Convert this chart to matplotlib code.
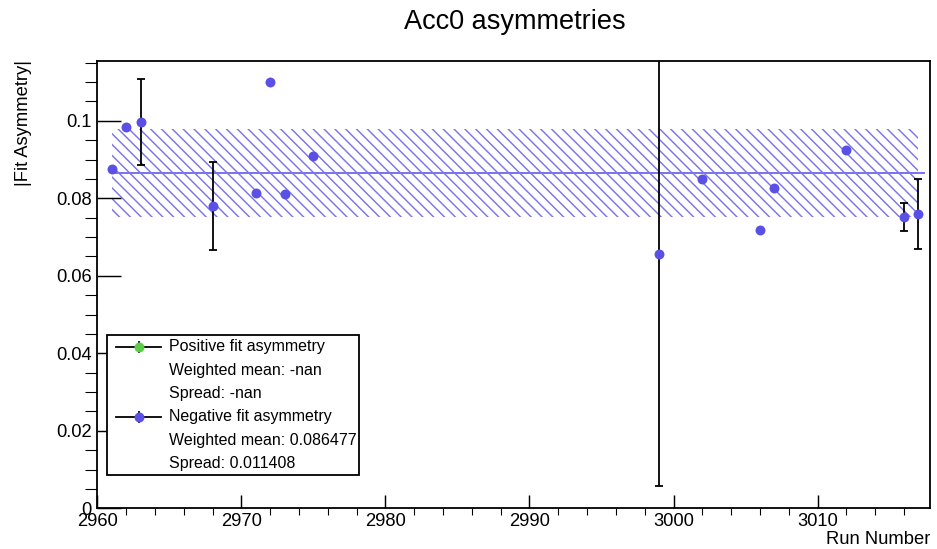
import numpy as np
import matplotlib
matplotlib.use("Agg")
import matplotlib.pyplot as plt

plt.rcParams['font.family'] = ['Liberation Sans', 'DejaVu Sans']
plt.rcParams['hatch.linewidth'] = 0.8

# run numbers and |fit asymmetry| (negative fit)
runs = [2961, 2962, 2963, 2968, 2971, 2972, 2973, 2975, 2999, 3002, 3006, 3007, 3012, 3016, 3017]
asym = [0.0876, 0.0983, 0.0997, 0.0780, 0.0814, 0.1101, 0.0811, 0.0908, 0.0655, 0.0850, 0.0717, 0.0826, 0.0925, 0.0752, 0.0759]
asym_err = [0.0, 0.0, 0.011, 0.0113, 0.0, 0.0, 0.0, 0.0, 0.0598, 0.0, 0.0, 0.0, 0.0, 0.0037, 0.009]

weighted_mean = 0.086477
spread = 0.011408
legend_rows = ["Positive fit asymmetry", "Weighted mean: -nan", "Spread: -nan",
               "Negative fit asymmetry", "Weighted mean: 0.086477", "Spread: 0.011408"]

blue = '#5a50e6'
band_blue = '#7a74ee'
green = '#5ccc44'

dpi = 130
fig = plt.figure(figsize=(937 / dpi, 549 / dpi), dpi=dpi)
ax = fig.add_axes([97.3 / 937, 1 - 508.3 / 549, (930 - 97.3) / 937, (508.3 - 60.7) / 549])

# spread band and weighted mean
ax.fill_between([runs[0], runs[-1]], weighted_mean - spread, weighted_mean + spread,
                facecolor='none', edgecolor=band_blue, hatch='\\\\\\\\', linewidth=0)
ax.plot([runs[0], runs[-1] + 0.4], [weighted_mean, weighted_mean], color=band_blue, lw=1.1)

ax.errorbar(runs, asym, yerr=asym_err, fmt='none', ecolor='black', elinewidth=1.0,
            capsize=2.2, capthick=1.0, zorder=3)
ax.plot(runs, asym, 'o', color=blue, markersize=5.5, zorder=4, markeredgewidth=0)

ax.set_xlim(2960, 3017.8)
ax.set_ylim(0, 0.1155)
ax.set_xticks(np.arange(2960, 3011, 10))
ax.set_xticks(np.arange(2960, 3018, 2), minor=True)
ax.set_yticks([0, 0.02, 0.04, 0.06, 0.08, 0.1])
ax.set_yticklabels(['0', '0.02', '0.04', '0.06', '0.08', '0.1'])
ax.set_yticks(np.arange(0, 0.1155, 0.005), minor=True)
ax.tick_params(axis='both', direction='in', labelsize=10.2, color='black')
ax.tick_params(axis='x', which='major', length=7.2, pad=2.5)
ax.tick_params(axis='x', which='minor', length=3.9)
ax.tick_params(axis='y', which='major', length=13.3, pad=3)
ax.tick_params(axis='y', which='minor', length=6.6)
for s in ax.spines.values():
    s.set_linewidth(1.0)

fig.text(930 / 937, 1 - 540 / 549, "Run Number", ha='right', va='center', fontsize=10.2)
fig.text(24 / 937, 1 - 60 / 549, "|Fit Asymmetry|", rotation=90, ha='center', va='top', fontsize=10.2)
fig.text(515 / 937, 1 - 22 / 549, "Acc0 asymmetries", ha='center', va='center', fontsize=15)

# legend box drawn by hand, ROOT style
lx0, lx1, ly0, ly1 = 107.3, 359.3, 335, 475.3
fig.patches.append(plt.Rectangle((lx0 / 937, 1 - ly1 / 549), (lx1 - lx0) / 937, (ly1 - ly0) / 549,
                                 transform=fig.transFigure, facecolor='white', edgecolor='black',
                                 lw=1.0, zorder=5))
row_y = [346.7, 370, 393.3, 416.7, 440, 463.3]
for i, label in enumerate(legend_rows):
    yy = 1 - row_y[i] / 549
    fig.text(169.3 / 937, yy, label, ha='left', va='center', fontsize=8.9, zorder=6)
    if i in (0, 3):
        c = green if i == 0 else blue
        fig.add_artist(plt.Line2D([116 / 937, 161 / 937], [yy, yy], color='black', lw=1.0, zorder=6))
        fig.add_artist(plt.Line2D([139 / 937, 139 / 937], [yy - 5 / 549, yy + 5 / 549], color='black', lw=1.0, zorder=6))
        fig.add_artist(plt.Line2D([139 / 937], [yy], marker='o', color=c, markersize=5.5,
                                  markeredgewidth=0, zorder=7))

fig.savefig("out.png", dpi=dpi)
